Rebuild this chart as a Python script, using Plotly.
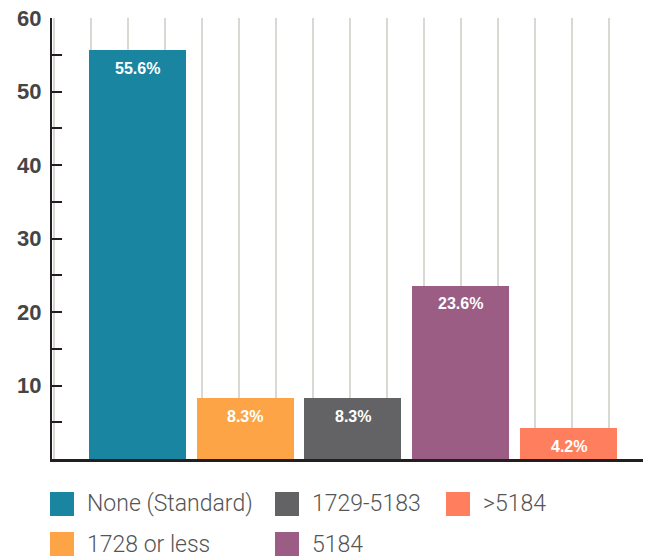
import plotly.graph_objects as go

# ---- data ----
categories = ["None (Standard)", "1728 or less", "1729-5183", "5184", ">5184"]
values = [55.6, 8.3, 8.3, 23.6, 4.2]
colors = ["#1985a0", "#fca446", "#636365", "#9b5d83", "#ff7e5d"]
y_major = [10, 20, 30, 40, 50, 60]
y_minor = [5, 15, 25, 35, 45, 55]

# ---- layout constants ----
W, H = 647, 557
ML, MR, MT, MB = 52, 4, 18, 98
PW, PH = W - ML - MR, H - MT - MB
XMIN, XMAX = -0.791, 4.691

def fx(px):
    return (px - ML) / PW

def fy(py):
    return (H - MB - py) / PH

fig = go.Figure()
fig.add_trace(go.Bar(
    x=list(range(len(categories))), y=values,
    marker=dict(color=colors, line=dict(width=0)),
    width=0.9, showlegend=False, hoverinfo="skip",
))

annotations = []
for i, v in enumerate(values):
    annotations.append(dict(
        x=i, y=v, xref="x", yref="y", text=f"{v:.1f}%", showarrow=False,
        yshift=-18, yanchor="middle", xanchor="center",
        font=dict(family="Liberation Sans", size=16, color="white", weight="bold"),
    ))

# legend (manual, column-major 3 x 2)
legend_cols = [50, 275, 446]
legend_rows = [504, 544]
shapes = []
for k, (name, col) in enumerate(zip(categories, colors)):
    c, r = k // 2, k % 2
    x0 = legend_cols[c]
    yc = legend_rows[r]
    shapes.append(dict(type="rect", xref="paper", yref="paper",
                       x0=fx(x0), x1=fx(x0 + 24), y0=fy(yc + 12), y1=fy(yc - 12),
                       fillcolor=col, line=dict(width=0)))
    annotations.append(dict(
        x=fx(x0 + 36), y=fy(yc), xref="paper", yref="paper", text=name,
        showarrow=False, xanchor="left", yanchor="middle", borderpad=0,
        font=dict(family="Roboto", size=23, color="#555555", weight=300),
    ))

fig.update_layout(
    width=W, height=H,
    margin=dict(l=ML, r=MR, t=MT, b=MB),
    plot_bgcolor="white", paper_bgcolor="white",
    bargap=0,
    xaxis=dict(
        range=[XMIN, XMAX], showticklabels=False, ticks="",
        showgrid=True, gridcolor="#d9d9d3", gridwidth=2,
        tick0=-0.4295, dtick=0.3432, zeroline=False,
        showline=True, linecolor="#231f20", linewidth=3,
    ),
    yaxis=dict(
        range=[0, 60], tickvals=y_major, ticktext=[str(t) for t in y_major],
        ticks="inside", ticklen=10, tickwidth=2, tickcolor="#231f20",
        minor=dict(tickvals=y_minor, ticks="inside", ticklen=10, tickwidth=2,
                   tickcolor="#231f20", showgrid=False),
        showgrid=False, zeroline=False,
        showline=True, linecolor="#231f20", linewidth=2,
        tickfont=dict(family="Liberation Sans", size=22, color="#454545", weight="bold"),
        ticklabelstandoff=4,
    ),
    annotations=annotations,
    shapes=shapes,
)

fig.write_html("out.html")
